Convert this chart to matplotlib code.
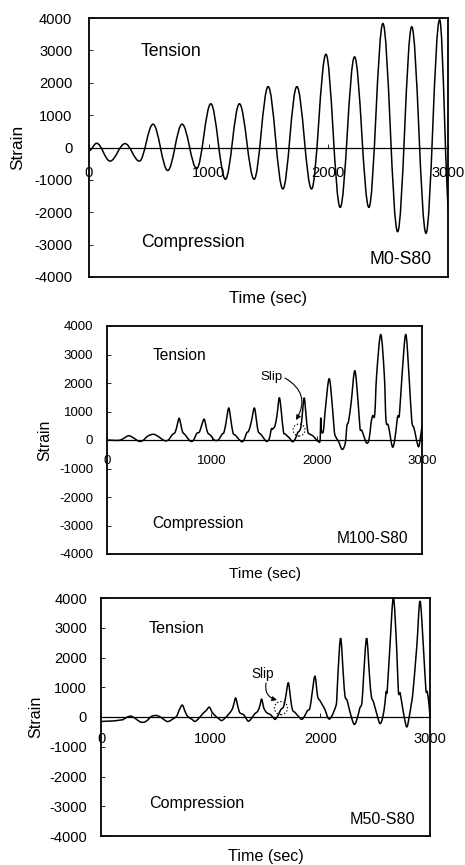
import numpy as np
import matplotlib
matplotlib.use('Agg')
import matplotlib.pyplot as plt
from matplotlib.path import Path
from matplotlib.patches import PathPatch, Ellipse

plt.rcParams['font.family'] = ['Liberation Sans', 'DejaVu Sans']
plt.rcParams['axes.unicode_minus'] = False

# ---- data ----
# M0-S80: peaks / troughs of the loading cycles (time in sec, strain)
m0_t = [0, 64, 176, 301, 421, 535, 658, 778, 900, 1018, 1140, 1257, 1380,
        1497, 1620, 1737, 1860, 1980, 2099, 2219, 2339, 2456, 2579, 2697,
        2816, 2930, 3012]
m0_v = [-100, 130, -420, 120, -420, 720, -710, 720, -650, 1350, -980, 1350,
        -980, 1880, -1280, 1880, -1280, 2880, -1850, 2800, -1850, 3830,
        -2600, 3730, -2650, 3950, -2100]

# M100-S80
m100_t = [0, 60, 120, 160, 206, 250, 290, 317, 345, 390, 443, 490, 530, 561,
          590, 620, 650, 670, 687, 703, 720, 745, 775, 801, 825, 855, 880,
          900, 925, 945, 960, 990, 1015, 1039, 1065, 1095, 1115, 1135, 1159,
          1180, 1200, 1225, 1255, 1283, 1305, 1330, 1350, 1375, 1403, 1425,
          1440, 1465, 1495, 1520, 1545, 1565, 1575, 1600, 1620, 1641, 1660,
          1680, 1700, 1735, 1767, 1795, 1815, 1835, 1848, 1860, 1878, 1895,
          1912, 1935, 1960, 1985, 2011, 2030, 2035, 2040, 2060, 2080, 2116,
          2148, 2165, 2180, 2205, 2240, 2270, 2285, 2300, 2325, 2360,
          2392, 2410, 2425, 2445, 2471, 2495, 2515, 2530, 2550, 2568, 2607,
          2641, 2657, 2680, 2717, 2740, 2760, 2770, 2785, 2810, 2845,
          2876, 2902, 2925, 2965, 2985, 3000]
m100_v = [0, -10, -10, 60, 150, 80, -20, -50, -10, 140, 200, 120, 10, -30,
          20, 180, 280, 550, 760, 550, 280, 180, 30, -50, 0, 230, 280,
          500, 730, 450, 250, 150, 20, -20, 20, 200, 280, 650, 1120,
          700, 250, 160, 30, -60, 0, 250, 320, 650, 1120, 650,
          300, 200, 50, -50, 40, 380, 380, 500, 900, 1480, 1000,
          300, 200, 80, -60, 50, 250, 330, 480, 900, 1480, 900,
          300, 200, 150, 50, -50, 0, 780, 350, 300, 1100, 2150,
          1100, 300, 100, -50, -330, -100, 500, 650, 1300, 2430,
          1300, 400, 350, 150, -100, 0, 600, 850, 900, 2280, 3700,
          2280, 700, 500, -230, 0, 600, 850, 900, 2280, 3700,
          2280, 700, 400, -230, 100, 500]

# M50-S80
m50_t = [0, 60, 120, 180, 200, 230, 270, 310, 350, 386, 420, 460, 508, 550,
         590, 614, 650, 690, 715, 742, 765, 790, 830, 857, 890, 930, 960,
         988, 1015, 1045, 1075, 1100, 1130, 1165, 1195, 1212, 1228, 1245,
         1265, 1300, 1320, 1343, 1370, 1400, 1430, 1450, 1465, 1485, 1510,
         1545, 1570, 1587, 1610, 1640, 1665, 1685, 1708, 1728, 1745, 1770,
         1800, 1830, 1855, 1880, 1905, 1925, 1951, 1975, 1997, 2020, 2042,
         2073, 2100, 2140, 2150, 2160, 2185, 2210, 2225, 2245, 2275, 2310,
         2340, 2360, 2380, 2395, 2422, 2448, 2465, 2485, 2515, 2544, 2570,
         2590, 2600, 2610, 2635, 2666, 2695, 2712, 2728, 2755, 2787, 2810,
         2830, 2845, 2880, 2909, 2939, 2962, 2975, 2990, 3000]
m50_v = [-150, -140, -130, -100, -90, -20, 30, -40, -150, -180, -120, 20, 50,
         -20, -130, -150, -80, 30, 250, 400, 200, 20, -80, -150, -50, 120,
         220, 330, 150, 30, -60, -120, -40, 100, 250, 450, 640, 400,
         150, 80, -30, -140, -60, 100, 200, 400, 600, 300, 150,
         80, -20, -80, 20, 250, 350, 700, 1150, 650, 250, 150,
         20, -80, 20, 200, 300, 800, 1370, 700, 550, 400, 250,
         -50, 0, 350, 600, 1400, 2650, 1400, 700, 550, 100, -250,
         0, 300, 500, 1400, 2650, 1400, 700, 500, 100, -220, 0,
         500, 850, 900, 2400, 4000, 2400, 850, 800, 200, -330, 0,
         450, 850, 2400, 3900, 2400, 950, 850, 450, 0]

yticks = [-4000, -3000, -2000, -1000, 0, 1000, 2000, 3000, 4000]
xticks = [0, 1000, 2000, 3000]

W, H = 465, 865
fig = plt.figure(figsize=(W / 100, H / 100), dpi=100)


def add_panel(left, top, right, bottom):
    return fig.add_axes([left / W, 1 - bottom / H, (right - left) / W, (bottom - top) / H])


def peak_path(t, v, k=0.363):
    # smooth curve through peaks/troughs, flat at each extremum
    verts = [(t[0], v[0])]
    codes = [Path.MOVETO]
    for i in range(len(t) - 1):
        dt = t[i + 1] - t[i]
        verts += [(t[i] + k * dt, v[i]), (t[i + 1] - k * dt, v[i + 1]), (t[i + 1], v[i + 1])]
        codes += [Path.CURVE4] * 3
    return Path(verts, codes)


def smooth_path(t, v):
    # catmull-rom style curve through the read points
    p = np.column_stack([t, v]).astype(float)
    p = np.vstack([p[0], p, p[-1]])
    verts = [tuple(p[1])]
    codes = [Path.MOVETO]
    for i in range(1, len(p) - 2):
        c1 = p[i] + (p[i + 1] - p[i - 1]) / 6.0
        c2 = p[i + 1] - (p[i + 2] - p[i]) / 6.0
        verts += [tuple(c1), tuple(c2), tuple(p[i + 1])]
        codes += [Path.CURVE4] * 3
    return Path(verts, codes)


def style_axes(ax, fs, xpad, ypad, ylab_x, lab_fs, name, name_fs):
    ax.set_xlim(0, 3000)
    ax.set_ylim(-4000, 4000)
    ax.set_xticks(xticks)
    ax.set_yticks(yticks)
    ax.spines['bottom'].set_position(('data', 0))
    ax.spines['bottom'].set_linewidth(0.9)
    for s in ['top', 'left', 'right']:
        ax.spines[s].set_linewidth(1.3)
    # bottom border of the plot area
    ax.plot([0, 1], [0, 0], transform=ax.transAxes, color='k', lw=1.3, clip_on=False)
    ax.tick_params(axis='x', direction='in', length=3, width=0.6, pad=xpad, labelsize=fs)
    ax.tick_params(axis='y', direction='in', length=3, width=0.6, pad=ypad, labelsize=fs)
    ax.set_ylabel('Strain', fontsize=lab_fs)
    ax.yaxis.set_label_coords(ylab_x, 0.5)
    ax.text(0.145, 0.87, 'Tension', transform=ax.transAxes, fontsize=name_fs,
            va='center', ha='left')
    ax.text(0.145, 0.135, 'Compression', transform=ax.transAxes, fontsize=name_fs,
            va='center', ha='left')
    ax.text(0.955, 0.068, name, transform=ax.transAxes, fontsize=name_fs,
            va='center', ha='right')


def slip_note(ax, txt_xy, start, end, rad, fs):
    ax.text(txt_xy[0], txt_xy[1], 'Slip', fontsize=fs, ha='center', va='center')
    ax.annotate('', xy=end, xytext=start,
                arrowprops=dict(arrowstyle='-|>', color='k', lw=0.8,
                                mutation_scale=7, shrinkA=0, shrinkB=0,
                                connectionstyle='arc3,rad=%s' % rad))


# ---- panel 1: M0-S80 ----
ax1 = add_panel(89, 18, 448, 277)
ax1.add_patch(PathPatch(peak_path(m0_t, m0_v), fill=False, color='k', lw=1.1))
style_axes(ax1, 10.6, 13, 12, -0.178, 12.4, 'M0-S80', 12.7)
fig.text(268.5 / W, 1 - 299 / H, 'Time (sec)', ha='center', va='center', fontsize=12)

# ---- panel 2: M100-S80 ----
ax2 = add_panel(107, 326, 422, 554)
ax2.add_patch(PathPatch(smooth_path(m100_t, m100_v), fill=False, color='k', lw=1.1))
style_axes(ax2, 9.5, 11, 10, -0.175, 11.3, 'M100-S80', 11.2)
fig.text(264.5 / W, 1 - 574 / H, 'Time (sec)', ha='center', va='center', fontsize=11.1)
ax2.add_patch(Ellipse((1829, 350), 114, 420, fill=False, ls=':', lw=0.9, color='k'))
slip_note(ax2, (1571, 2210), (1695, 2175), (1800, 700), -0.5, 9.5)

# ---- panel 3: M50-S80 ----
ax3 = add_panel(101, 598, 430, 836)
ax3.add_patch(PathPatch(smooth_path(m50_t, m50_v), fill=False, color='k', lw=1.1))
style_axes(ax3, 10.5, 11, 10, -0.176, 11.6, 'M50-S80', 11.6)
fig.text(265.5 / W, 1 - 857 / H, 'Time (sec)', ha='center', va='center', fontsize=11.6)
ax3.add_patch(Ellipse((1641, 300), 119, 437, fill=False, ls=':', lw=0.9, color='k'))
slip_note(ax3, (1477, 1445), (1505, 1143), (1605, 571), 0.45, 9.8)

plt.savefig('out.png', dpi=100)
